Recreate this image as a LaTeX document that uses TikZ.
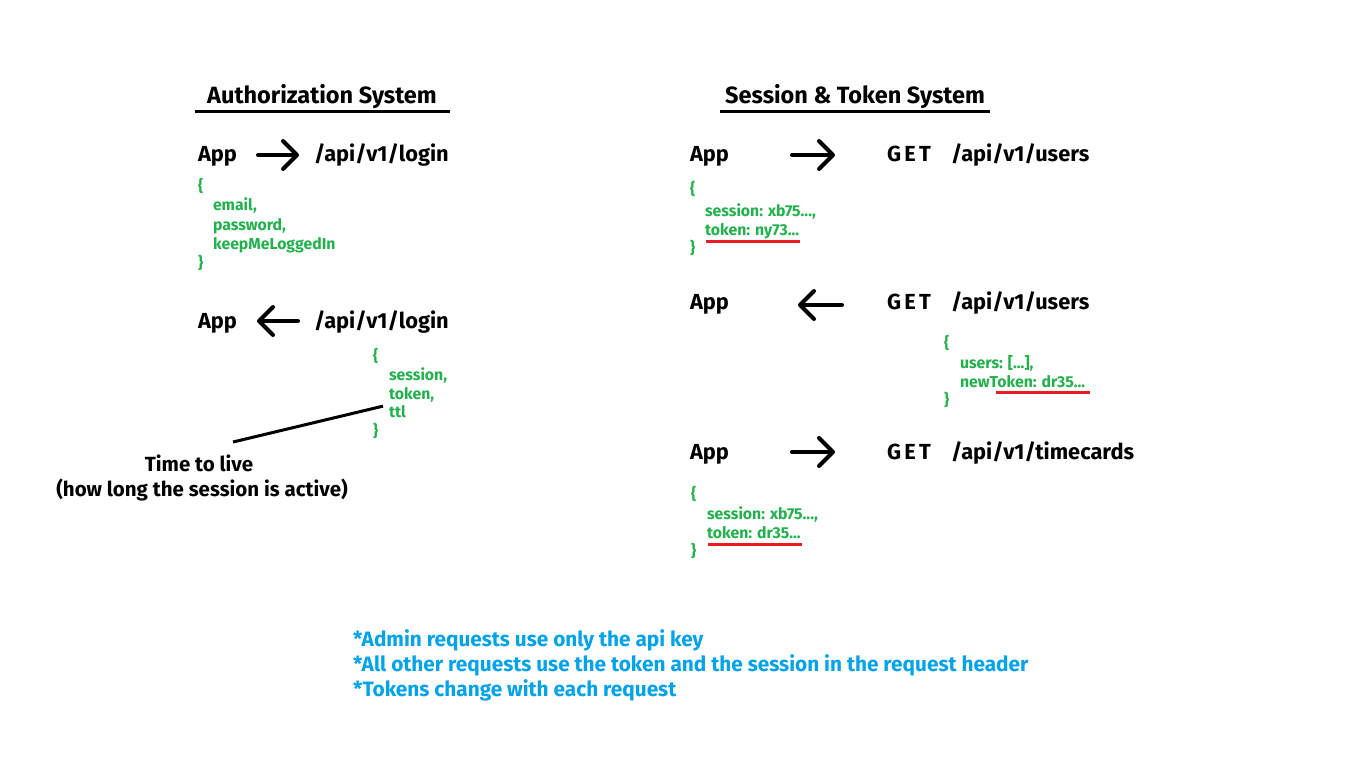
\documentclass[tikz,border=0pt]{standalone}
\usepackage{fontspec}
\setmainfont{Fira Sans}
\usetikzlibrary{arrows.meta}
\definecolor{pgreen}{RGB}{34,177,76}
\definecolor{pblue}{RGB}{0,162,232}
\definecolor{pred}{RGB}{237,28,36}
\begin{document}
\begin{tikzpicture}[x=1pt,y=-1pt,
  every node/.style={inner sep=0pt,outer sep=0pt,anchor=base west,font=\bfseries},
  title/.style={font=\fontsize{23.5}{26}\selectfont\bfseries},
  big/.style={font=\fontsize{21.8}{26}\selectfont\bfseries},
  spaced/.style={font=\fontsize{21.8}{26}\selectfont\bfseries\addfontfeatures{LetterSpace=15}},
  json/.style={text=pgreen,font=\fontsize{15.8}{18}\selectfont\bfseries},
  note/.style={text=pblue,font=\fontsize{20.8}{24}\selectfont\bfseries},
  lbl/.style={anchor=base,font=\fontsize{20.5}{24}\selectfont\bfseries},
  flow/.style={line width=4pt,line cap=round,-{Straight Barb[length=14pt,width=28pt,line width=4pt,round]}},
  rule/.style={line width=3pt},
  redline/.style={pred,line width=3pt}]
\fill[white] (0,0) rectangle (1353,773);
\useasboundingbox (0,0) rectangle (1353,773);

% ---------- Authorization System ----------
\node[title,anchor=base] (t1) at (322,104) {Authorization System};
\coordinate (t1l) at (195,112); \coordinate (t1r) at (450,112);
\draw[rule] (t1l) -- (t1r);

\node[big] (a1) at (198,162) {App};
\node[big] (l1) at (314,162) {/api/v1/login};
\coordinate (a1s) at (258,155); \coordinate (a1e) at (299,155);
\draw[flow] (a1s) -- (a1e);

\node[json] (j1a) at (198,192) {\{};
\node[json] (j1b) at (213,211) {email,};
\node[json] (j1c) at (213,230) {password,};
\node[json] (j1d) at (213,249) {keepMeLoggedIn};
\node[json] (j1e) at (198,268) {\}};

\node[big] (a2) at (198,328) {App};
\node[big] (l2) at (314,328) {/api/v1/login};
\coordinate (a2s) at (298,321); \coordinate (a2e) at (257,321);
\draw[flow] (a2s) -- (a2e);

\node[json] (j2a) at (373,361) {\{};
\node[json] (j2b) at (389,380) {session,};
\node[json] (j2c) at (389,399) {token,};
\node[json] (j2d) at (389,417) {ttl};
\node[json] (j2e) at (373,436) {\}};

\node[lbl] (ttl1) at (199,471) {Time to live};
\node[lbl] (ttl2) at (202,496) {(how long the session is active)};
\coordinate (ttlp) at (233,442);
\draw[line width=3pt] (j2d.west) ++(-6,-5) coordinate (ttlq) -- (ttlp);

% ---------- Session & Token System ----------
\node[title,anchor=base] (t2) at (855,104) {Session \& Token System};
\coordinate (t2l) at (720,112); \coordinate (t2r) at (990,112);
\draw[rule] (t2l) -- (t2r);

% row 1
\node[big] (b1) at (690,162) {App};
\node[spaced] (g1) at (887,162) {GET};
\node[big] (u1) at (951,162) {/api/v1/users};
\coordinate (b1s) at (792,155); \coordinate (b1e) at (835,155);
\draw[flow] (b1s) -- (b1e);

\node[json] (k1a) at (690,195) {\{};
\node[json] (k1b) at (705,216) {session: xb75...,};
\node[json] (k1c) at (705,235) {token: ny73...};
\node[json] (k1d) at (690,253) {\}};
\coordinate (r1a) at (706,241); \coordinate (r1b) at (800,241);
\draw[redline] (r1a) -- (r1b);

% row 2
\node[big] (b2) at (690,309) {App};
\node[spaced] (g2) at (887,309) {GET};
\node[big] (u2) at (951,309) {/api/v1/users};
\coordinate (b2s) at (842,305); \coordinate (b2e) at (798,305);
\draw[flow] (b2s) -- (b2e);

\node[json] (k2a) at (944,348) {\{};
\node[json] (k2b) at (960,368) {users: [...],};
\node[json] (k2c) at (960,387) {newToken: dr35...};
\node[json] (k2d) at (944,405) {\}};
\coordinate (r2a) at (996,392); \coordinate (r2b) at (1090,392);
\draw[redline] (r2a) -- (r2b);

% row 3
\node[big] (b3) at (690,459) {App};
\node[spaced] (g3) at (887,459) {GET};
\node[big] (u3) at (951,459) {/api/v1/timecards};
\coordinate (b3s) at (792,452); \coordinate (b3e) at (835,452);
\draw[flow] (b3s) -- (b3e);

\node[json] (k3a) at (691,499) {\{};
\node[json] (k3b) at (707,519) {session: xb75...,};
\node[json] (k3c) at (707,538) {token: dr35...};
\node[json] (k3d) at (691,556) {\}};
\coordinate (r3a) at (708,544); \coordinate (r3b) at (802,544);
\draw[redline] (r3a) -- (r3b);

% ---------- notes ----------
\node[note] (n1) at (353,646) {*Admin requests use only the api key};
\node[note] (n2) at (353,671) {*All other requests use the token and the session in the request header};
\node[note] (n3) at (353,696) {*Tokens change with each request};
\end{tikzpicture}
\end{document}
